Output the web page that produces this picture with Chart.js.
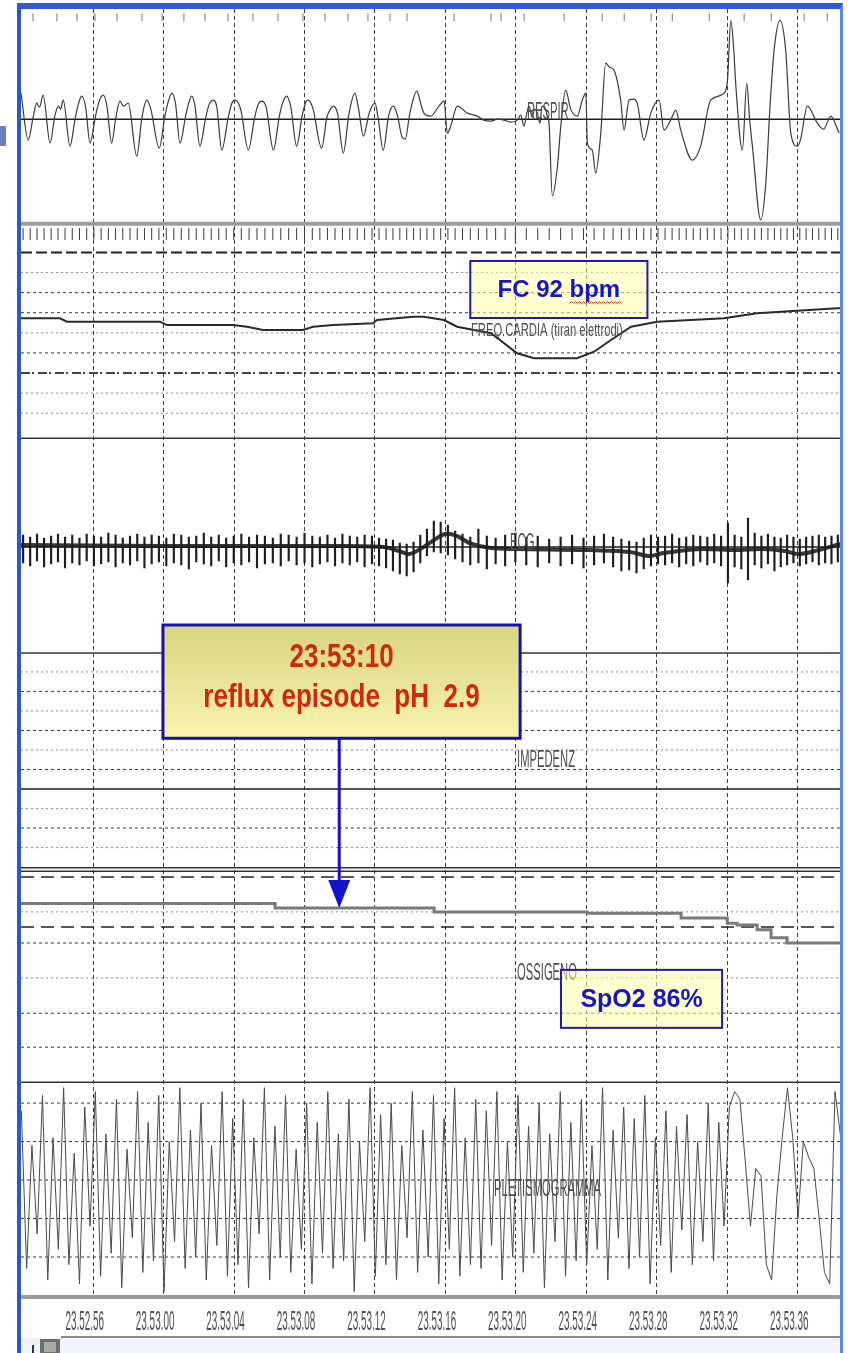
<!DOCTYPE html>
<html>
<head>
<meta charset="UTF-8">
<title>Poligrafia 23.52.52 - 23.53.38</title>
<script src="https://cdn.jsdelivr.net/npm/chart.js"></script>
<style>
  html, body { margin: 0; padding: 0; background: #fff; }
  .wrap { position: relative; width: 848px; height: 1353px; overflow: hidden; }
  .wrap canvas { position: absolute; left: 0; top: 0; }
  .frame {
    position: absolute; left: 17px; top: 3px; width: 819px; height: 1360px;
    border-left: 4px solid #2c57d4; border-top: 6px solid #2f5ad8; border-right: 3px solid #5b86ec;
    pointer-events: none;
  }
  .tab { position: absolute; left: 0; top: 126px; width: 6px; height: 20px; background: #6b80c4; }
</style>
</head>
<body>
<div class="wrap">
  <canvas id="poly"></canvas>
  <div class="frame"></div>
  <div class="tab"></div>
</div>
<script>
// time in seconds after 23:52:00
const timeTicks = [56, 60, 64, 68, 72, 76, 80, 84, 88, 92, 96];
const timeLabels = ['23.52.56', '23.53.00', '23.53.04', '23.53.08', '23.53.12', '23.53.16',
                    '23.53.20', '23.53.24', '23.53.28', '23.53.32', '23.53.36'];

// respiratory effort [t, amplitude]
const respTrace = [
  [51.93, 26], [52.34, -21], [52.62, 2], [52.82, 16], [52.98, 12], [53.19, 24], [53.58, -24], [53.85, 3],
  [54.05, 13], [54.18, 10], [54.33, 19], [54.71, -27], [55.0, 0], [55.2, 16], [55.38, 23], [55.6, 12],
  [55.85, -24], [56.15, 2], [56.35, 17], [56.6, 24], [56.8, 14], [57.08, -24], [57.3, 0], [57.55, 18],
  [57.75, 13], [58.02, 16], [58.5, -37], [58.8, 2], [59.07, 19], [59.3, 10], [59.78, -29], [60.1, 3],
  [60.3, 18], [60.49, 26], [60.7, 16], [60.96, -24], [61.3, 5], [61.62, 23], [61.8, 14], [62.09, -27],
  [62.4, 0], [62.6, 14], [62.85, 19], [63.05, 12], [63.33, -31], [63.7, 2], [63.9, 16], [64.08, 19],
  [64.4, 10], [64.84, -31], [65.2, 2], [65.4, 15], [65.6, 18], [65.85, 12], [66.26, -31], [66.6, 3],
  [66.8, 17], [67.02, 23], [67.25, 12], [67.58, -27], [67.9, 4], [68.1, 17], [68.24, 19], [68.5, 11],
  [69.0, -29], [69.3, 2], [69.5, 10], [69.66, 13], [69.9, 6], [70.23, -34], [70.55, 5], [70.89, 26],
  [71.1, 10], [71.37, -17], [71.7, 6], [72.03, 16], [72.2, 2], [72.5, -31], [72.8, 3], [73.07, 13],
  [73.3, 4], [73.55, -17], [73.75, -20], [74.0, 5], [74.4, 28], [74.65, 14], [74.81, 6], [75.19, 3],
  [75.66, 13], [75.95, 18], [76.14, -14], [76.33, -7], [76.7, 13], [77.27, 6], [77.84, 3], [78.2, -1],
  [78.6, -2], [79.0, 0], [79.36, -1], [79.7, -3], [80.11, -1], [80.3, 4], [80.49, -7], [80.65, 6],
  [80.78, 13], [80.95, 2], [81.1, 10], [81.25, 6], [81.4, -4], [81.5, 12], [81.63, 13], [81.8, 4],
  [81.91, -4], [82.1, -77], [82.39, -47], [82.58, -7], [82.86, 29], [83.14, 10], [83.52, 3], [83.8, 19],
  [84.0, 26], [84.09, -24], [84.37, -31], [84.56, -54], [84.85, -14], [85.13, 56], [85.35, 52], [85.6, 49],
  [85.98, 19], [86.17, -11], [86.45, 19], [86.7, 20], [86.92, 16], [87.3, -21], [87.69, 6], [88.16, 19],
  [88.44, -11], [88.82, -1], [89.11, 9], [89.39, -11], [90.05, -41], [90.52, -27], [91.09, 19], [91.85, 26],
  [92.05, 40], [92.23, 99], [92.4, 70], [92.51, 36], [92.89, -31], [93.14, 36], [93.3, 0], [93.46, -27],
  [93.93, -101], [94.22, -64], [94.45, 10], [94.69, 69], [95.03, 99], [95.35, 69], [95.64, -14], [96.01, -27],
  [96.2, -20], [96.58, 13], [97.15, -4], [97.5, -10], [97.91, 3], [98.38, -14]
];

// event marks along the top of the effort channel
const eventTimes = [52.61, 53.97, 55.11, 56.13, 57.38, 58.80, 59.94, 61.18, 62.38, 63.68, 65.10, 66.52,
  67.94, 69.19, 70.50, 71.63, 72.88, 73.85, 76.52, 78.62, 79.19, 80.50, 82.77, 84.93, 86.18, 87.71,
  88.91, 91.01, 92.99, 94.53, 96.40, 97.71];

// heart rate, bpm [t, bpm]
const hrTrace = [
  [51.93, 151.6], [54.14, 151.6], [54.54, 146.6], [59.82, 146.6], [60.22, 141.6], [63.97, 141.6],
  [64.76, 139.1], [65.67, 134.2], [67.94, 134.2], [68.51, 139.1], [69.65, 141.6], [71.92, 144.2],
  [72.14, 149.1], [74.19, 154.0], [74.81, 154.0], [75.95, 149.1], [76.69, 139.1], [78.62, 129.3],
  [80.10, 99.4], [81.06, 92], [83.50, 92], [84.47, 101.8], [85.43, 119.3], [86.57, 139.1],
  [88.05, 146.6], [91.85, 151.6], [93.72, 159.1], [98.27, 166.6], [98.49, 166.6]
];

// R-wave detections (s) with R peak / S trough of each ECG complex
const beatTimes = [
  52.05, 52.45, 52.84, 53.24, 53.64, 54.03, 54.43, 54.84, 55.25, 55.66,
  56.07, 56.48, 56.89, 57.30, 57.71, 58.12, 58.53, 58.94, 59.35, 59.76,
  60.18, 60.61, 61.03, 61.46, 61.88, 62.31, 62.73, 63.16, 63.58, 64.01,
  64.44, 64.88, 65.33, 65.78, 66.23, 66.68, 67.13, 67.58, 68.03, 68.47,
  68.90, 69.33, 69.76, 70.18, 70.60, 71.02, 71.44, 71.86, 72.26, 72.66,
  73.05, 73.44, 73.83, 74.22, 74.60, 74.98, 75.37, 75.76, 76.17, 76.58,
  77.00, 77.44, 77.90, 78.38, 78.88, 79.42, 80.00, 80.62, 81.27, 81.92,
  82.57, 83.22, 83.87, 84.47, 85.03, 85.55, 86.02, 86.46, 86.88, 87.29,
  87.70, 88.10, 88.50, 88.90, 89.30, 89.70, 90.10, 90.50, 90.90, 91.29,
  91.68, 92.07, 92.45, 92.83, 93.21, 93.59, 93.97, 94.34, 94.71, 95.07,
  95.43, 95.79, 96.15, 96.51, 96.87, 97.23, 97.59, 97.95, 98.31
];
const ecgR = [
  1.2, 1.0, 1.3, 0.9, 1.1, 1.3, 1.0, 1.2, 0.9, 1.3,
  1.1, 1.0, 1.4, 1.2, 0.9, 1.1, 1.3, 1.0, 1.2, 1.1,
  0.9, 1.3, 1.2, 1.0, 1.1, 1.4, 1.0, 1.2, 0.9, 1.1,
  1.3, 1.0, 1.2, 1.1, 0.9, 1.3, 1.2, 1.0, 1.4, 1.1,
  1.0, 1.2, 0.9, 1.3, 1.1, 1.0, 1.2, 1.1, 0.9, 0.8,
  0.7, 0.4, 0.3, 0.5, 1.2, 1.8, 2.6, 2.5, 2.2, 1.6,
  1.3, 1.0, 1.8, 1.1, 0.9, 1.2, 1.4, 1.0, 1.1, 0.8,
  1.0, 1.2, 0.9, 1.1, 1.3, 1.0, 0.8, 0.6, 0.5, 0.9,
  1.2, 1.0, 1.1, 1.3, 0.9, 1.0, 1.2, 1.1, 1.0, 1.3,
  1.1, 2.4, 1.2, 1.0, 2.9, 1.4, 1.1, 1.3, 1.0, 0.9,
  1.2, 1.0, 0.8, 1.0, 1.1, 1.2, 1.0, 1.1, 1.2
];
const ecgS = [
  -1.6, -1.9, -1.4, -2.0, -1.7, -1.5, -2.1, -1.6, -1.8, -1.4,
  -1.9, -1.7, -1.5, -2.0, -1.6, -1.8, -1.4, -2.1, -1.7, -1.5,
  -1.9, -1.6, -1.8, -2.2, -1.5, -1.7, -1.9, -1.4, -2.0, -1.6,
  -1.8, -1.5, -2.1, -1.7, -1.6, -1.9, -1.4, -1.8, -1.6, -2.0,
  -1.7, -1.5, -1.9, -1.6, -1.8, -1.5, -2.0, -1.7, -1.9, -2.1,
  -2.4, -2.7, -2.9, -2.5, -1.6, -0.9, -0.5, -0.6, -0.8, -1.2,
  -1.5, -1.8, -1.6, -2.2, -1.7, -1.9, -1.5, -1.8, -2.0, -1.6,
  -1.9, -1.7, -2.1, -1.8, -1.6, -2.0, -2.4, -2.3, -2.6, -2.2,
  -1.9, -1.7, -1.8, -1.6, -2.0, -1.7, -1.9, -1.5, -1.8, -1.6,
  -1.9, -3.6, -2.0, -2.2, -3.3, -1.8, -2.1, -1.7, -2.4, -2.0,
  -1.8, -1.6, -1.9, -1.7, -1.5, -1.8, -1.6, -1.7, -1.5
];
// ECG baseline wander [t, value]
const ecgBase = [
  [51.93, 0.2], [60, 0.1], [70, 0.1], [72.5, 0.0], [73.4, -0.4], [74.0, -0.7], [74.6, -0.2],
  [75.3, 0.6], [76.0, 1.3], [76.7, 1.1], [77.4, 0.4], [78.6, -0.1], [80.0, -0.2], [84.0, -0.3],
  [86.5, -0.5], [87.6, -0.9], [88.4, -0.6], [90.5, -0.2], [92.5, -0.3], [94.0, -0.2], [95.3, -0.4],
  [96.0, -0.7], [96.8, -0.5], [98.45, 0.3]
];

// oxygen saturation, % [t, SpO2]
const spo2Trace = [
  [51.93, 94.4], [66.36, 93.4], [75.39, 92.6], [84.08, 92.3], [89.41, 91.3], [92.03, 90.2],
  [92.59, 89.8], [93.73, 88.8], [94.52, 87.1], [95.43, 86.0], [98.49, 86.0]
];

// plethysmogram, sampled every plethStep seconds from plethStart
const plethStart = 51.95;
const plethStep = 0.3;
const plethValues = [
  1.8, -2.3, 0.9, -1.4, 2.2, -2.6, 1.1, -1.8, 2.4, -2.2, 0.7, -2.7, 1.9, -1.2, 2.3, -2.5, 1.2, -1.9, 2.1, -2.8,
  0.8, -1.5, 2.3, -2.4, 1.5, -2.1, 2.2, -2.9, 1.0, -1.6, 2.4, -2.3, 1.3, -2.0, 2.0, -2.6, 0.9, -1.7, 2.3, -2.5,
  1.6, -2.2, 2.1, -2.8, 1.1, -1.4, 2.4, -2.6, 1.4, -2.0, 2.2, -2.4, 0.8, -1.8, 2.0, -2.7, 1.5, -1.9, 2.3, -2.3,
  1.2, -2.1, 2.1, -2.9, 1.0, -1.6, 2.4, -2.5, 1.7, -2.2, 2.0, -2.6, 0.9, -1.5, 2.3, -2.4, 1.3, -2.0, 2.2, -2.7,
  1.6, -1.8, 2.4, -2.5, 1.1, -2.2, 2.1, -2.3, 1.8, -1.7, 2.3, -2.6, 1.0, -2.0, 2.2, -2.4, 1.4, -1.9, 2.0, -2.8,
  1.2, -1.6, 2.3, -2.5, 1.5, -2.1, 2.1, -2.2, 0.9, -1.8, 2.4, -2.6, 1.3, -1.5, 1.9, -2.3, 1.6, -2.0, 2.2, -2.7,
  1.1, -1.7, 1.8, -2.4, 1.4, -1.3, 1.7, -2.2, 1.0, -1.6, 2.0, -2.1, 1.5, -1.2,
  1.9, 2.3, 2.1, 0.5, -1.2, 0.3, 0.1, -2.2, -2.6, -0.4, 1.1, 2.4, 1.1, -1.0, 1.0, 0.6, 0.3, -1.0, -2.4, -2.7, 2.3, 1.2
];

// reflux event
const refluxTime = 70;
const refluxPh = 2.9;

const pts = arr => arr.map(([x, y]) => ({x, y}));
const clock = s => '23:' + (52 + Math.floor(s / 60)) + ':' + String(Math.round(s % 60)).padStart(2, '0');
const minHr = Math.min(...hrTrace.map(p => p[1]));
const lastSpo2 = spo2Trace[spo2Trace.length - 1][1];
const spo2At = t => spo2Trace.filter(p => p[0] <= t).pop()[1];

// six stacked channels, top to bottom
const channels = [
  {id: 'yResp', min: -104.7, max: 110.3, weight: 6, edge: 'grayBand', lines: [[0, 'solid']]},
  {id: 'yHr', min: -27.5, max: 292.9, weight: 5, edge: 'rule',
   lines: [[250, 'heavyDash'], [220, 'dotLight'], [190, 'dotDark'], [160, 'dotDark'], [130, 'dotLight'],
           [100, 'dotDark'], [70, 'dashDot'], [40, 'dotLight'], [10, 'dotLight']]},
  {id: 'yEcg', min: -10.6, max: 10.87, weight: 4, edge: 'rule', lines: [[0, 'solid']]},
  {id: 'yImp', min: -4.03, max: 6.97, weight: 3, edge: 'double',
   lines: [[6, 'dotLight'], [5, 'dotDark'], [4, 'dotLight'], [3, 'dotDark'], [2, 'dotLight'], [1, 'dotDark'],
           [0, 'solid'], [-1, 'dotLight'], [-2, 'dotDark'], [-3, 'dotLight']]},
  {id: 'ySpo2', min: 56.44, max: 101.98, weight: 2, edge: 'rule',
   lines: [[100, 'longDash'], [92.6, 'dotLight'], [89.4, 'longDash'], [86, 'dotDark'], [78.6, 'dotLight'],
           [71.1, 'dotDark'], [63.9, 'dotDark']]},
  {id: 'yPleth', min: -3.04, max: 2.54, weight: 1, edge: 'grayBand',
   lines: [[2, 'dotDark'], [1, 'dotDark'], [0, 'dotDark'], [-1, 'dotDark'], [-2, 'dotDark']]}
];

const lineStyles = {
  solid: {color: '#1e1e1e', width: 1.5, dash: []},
  rule: {color: '#333', width: 1.5, dash: []},
  grayBand: {color: '#9c9c9c', width: 4, dash: []},
  dotLight: {color: '#8c8c8c', width: 1, dash: [2, 3]},
  dotDark: {color: '#3a3a3a', width: 1, dash: [3, 3]},
  heavyDash: {color: '#222', width: 2, dash: [11, 4]},
  longDash: {color: '#222', width: 1.5, dash: [13, 7]},
  dashDot: {color: '#444', width: 2, dash: [9, 2, 2, 4]}
};

// channel captions, placed on the channel midline
const captions = [
  {text: 'RESPIR', scale: 'yResp', t: 80.66, dy: -4},
  {text: 'FREQ.CARDIA (tiran elettrodi)', scale: 'yHr', t: 77.48, dy: 0, sy: 1.3},
  {text: 'ECG', scale: 'yEcg', t: 79.7, dy: -2},
  {text: 'IMPEDENZ', scale: 'yImp', t: 80.1, dy: 0},
  {text: 'OSSIGENO', scale: 'ySpo2', t: 80.1, dy: -2},
  {text: 'PLETISMOGRAMMA', scale: 'yPleth', t: 78.79, dy: 0}
];

function hline(ctx, area, y, kind) {
  const st = lineStyles[kind];
  ctx.save();
  ctx.strokeStyle = st.color;
  ctx.lineWidth = st.width;
  ctx.setLineDash(st.dash);
  ctx.beginPath();
  ctx.moveTo(area.left, y);
  ctx.lineTo(area.right, y);
  ctx.stroke();
  ctx.restore();
}

function stretchText(ctx, text, x, y, o) {
  ctx.save();
  ctx.translate(x, y);
  ctx.scale(o.sx || 1, o.sy || 1);
  ctx.font = o.font;
  ctx.fillStyle = o.color;
  ctx.textAlign = o.align || 'left';
  ctx.textBaseline = 'middle';
  ctx.fillText(text, 0, 0);
  ctx.restore();
}

function noteBox(ctx, x0, y0, x1, y1, fill, stroke, lw) {
  ctx.save();
  ctx.fillStyle = fill;
  ctx.fillRect(x0, y0, x1 - x0, y1 - y0);
  ctx.strokeStyle = stroke;
  ctx.lineWidth = lw;
  ctx.strokeRect(x0, y0, x1 - x0, y1 - y0);
  ctx.restore();
}

const stripGrid = {
  id: 'stripGrid',
  beforeDatasetsDraw(chart) {
    const {ctx, chartArea: a, scales} = chart;
    ctx.save();
    ctx.strokeStyle = '#3c3c3c';
    ctx.lineWidth = 1;
    ctx.setLineDash([4, 3]);
    timeTicks.forEach(t => {
      const px = Math.round(scales.x.getPixelForValue(t)) + 0.5;
      ctx.beginPath();
      ctx.moveTo(px, a.top);
      ctx.lineTo(px, a.bottom);
      ctx.stroke();
    });
    ctx.restore();
    channels.forEach(ch => {
      const sc = scales[ch.id];
      ch.lines.forEach(([v, kind]) => hline(ctx, a, sc.getPixelForValue(v), kind));
      if (ch.edge === 'double') {
        hline(ctx, a, sc.bottom, 'rule');
        hline(ctx, a, sc.bottom + 3.5, 'rule');
      } else {
        hline(ctx, a, sc.bottom, ch.edge);
      }
    });
  }
};

const notes = {
  id: 'notes',
  afterDatasetsDraw(chart) {
    const {ctx, scales: s} = chart;
    const x = s.x;
    captions.forEach(c => {
      const sc = s[c.scale];
      stretchText(ctx, c.text, x.getPixelForValue(c.t), (sc.top + sc.bottom) / 2 + c.dy,
        {font: '14px "Liberation Sans", Arial, sans-serif', sx: 0.8, sy: c.sy || 1.7, color: '#4e4e4e'});
    });

    // heart rate note
    const fx0 = x.getPixelForValue(77.44), fx1 = x.getPixelForValue(87.5);
    const fy0 = s.yHr.getPixelForValue(237.2), fy1 = s.yHr.getPixelForValue(152.1);
    noteBox(ctx, fx0, fy0, fx1, fy1, 'rgba(255,255,170,0.55)', '#1c1ca8', 2);
    const fcText = 'FC ' + Math.round(minHr) + ' bpm';
    ctx.save();
    ctx.font = 'bold 24px "Liberation Sans", Arial, sans-serif';
    const fw = ctx.measureText(fcText).width;
    const fw1 = ctx.measureText('FC ' + Math.round(minHr) + ' ').width;
    const fcx = (fx0 + fx1) / 2, fcy = (fy0 + fy1) / 2 + 1;
    ctx.fillStyle = '#1616c4';
    ctx.textAlign = 'left';
    ctx.textBaseline = 'middle';
    ctx.fillText(fcText, fcx - fw / 2, fcy);
    // spell-check squiggle under "bpm"
    ctx.strokeStyle = '#d43a2a';
    ctx.lineWidth = 1;
    ctx.beginPath();
    let sxp = fcx - fw / 2 + fw1, up = true;
    ctx.moveTo(sxp, fcy + 13);
    while (sxp < fcx + fw / 2) {
      sxp += 2;
      ctx.lineTo(sxp, fcy + (up ? 11 : 13));
      up = !up;
    }
    ctx.stroke();
    ctx.restore();

    // reflux note and arrow
    const rx0 = x.getPixelForValue(59.99), rx1 = x.getPixelForValue(80.27);
    const ry0 = s.yEcg.getPixelForValue(-7.8), ry1 = s.yImp.getPixelForValue(2.6);
    const grad = ctx.createLinearGradient(0, ry0, 0, ry1);
    grad.addColorStop(0, '#d9d47e');
    grad.addColorStop(1, '#f8f4ae');
    noteBox(ctx, rx0, ry0, rx1, ry1, grad, '#1010b8', 3);
    const rcx = (rx0 + rx1) / 2;
    stretchText(ctx, clock(refluxTime), rcx, ry0 + 33,
      {font: 'bold 31px "Liberation Sans", Arial, sans-serif', sx: 0.84, sy: 1.05, color: '#cc2a0c', align: 'center'});
    stretchText(ctx, 'reflux episode  pH  ' + refluxPh.toFixed(1), rcx, ry0 + 73,
      {font: 'bold 31px "Liberation Sans", Arial, sans-serif', sx: 0.84, sy: 1.05, color: '#cc2a0c', align: 'center'});

    const ax = x.getPixelForValue(refluxTime);
    const tipY = s.ySpo2.getPixelForValue(spo2At(refluxTime));
    ctx.save();
    ctx.strokeStyle = '#1414cc';
    ctx.fillStyle = '#1414cc';
    ctx.lineWidth = 3;
    ctx.beginPath();
    ctx.moveTo(ax, ry1);
    ctx.lineTo(ax, tipY - 26);
    ctx.stroke();
    ctx.beginPath();
    ctx.moveTo(ax - 11, tipY - 28);
    ctx.lineTo(ax + 11, tipY - 28);
    ctx.lineTo(ax, tipY);
    ctx.closePath();
    ctx.fill();
    ctx.restore();

    // saturation note
    const sx0 = x.getPixelForValue(82.59), sx1 = x.getPixelForValue(91.74);
    const sy0 = s.ySpo2.getPixelForValue(80.3), sy1 = s.ySpo2.getPixelForValue(68.0);
    noteBox(ctx, sx0, sy0, sx1, sy1, 'rgba(255,255,170,0.55)', '#1c1ca8', 2);
    stretchText(ctx, 'SpO2 ' + lastSpo2 + '%', (sx0 + sx1) / 2, (sy0 + sy1) / 2 + 1,
      {font: 'bold 25px "Liberation Sans", Arial, sans-serif', color: '#1616c4', align: 'center'});
  },
  afterDraw(chart) {
    const {ctx, chartArea: a, scales: s} = chart;
    timeTicks.forEach((t, i) => {
      stretchText(ctx, timeLabels[i], s.x.getPixelForValue(t) - 8, a.bottom + 26,
        {font: '15px "Liberation Sans", Arial, sans-serif', sx: 0.66, sy: 1.8, color: '#505050', align: 'center'});
    });
    // window footer strip
    ctx.save();
    ctx.fillStyle = '#f2f2fb';
    ctx.fillRect(a.left, a.bottom + 41, a.right - a.left, 20);
    ctx.strokeStyle = '#8a8a8a';
    ctx.lineWidth = 2;
    ctx.beginPath();
    ctx.moveTo(a.left + 40, a.bottom + 40);
    ctx.lineTo(a.right, a.bottom + 40);
    ctx.stroke();
    ctx.fillStyle = '#6e6e6e';
    ctx.fillRect(a.left + 19, a.bottom + 42, 20, 14);
    ctx.fillStyle = '#a8a8a8';
    ctx.fillRect(a.left + 23, a.bottom + 45, 12, 10);
    ctx.fillStyle = '#333';
    ctx.fillRect(a.left + 11, a.bottom + 48, 2, 8);
    ctx.restore();
  }
};

const scales = {
  x: {
    type: 'linear', min: 51.93, max: 98.49, offset: false,
    grid: {display: false, drawTicks: false, offset: false}, ticks: {display: false}, border: {display: false}
  }
};
channels.forEach(ch => {
  scales[ch.id] = {
    type: 'linear', position: 'left', stack: 'strip', stackWeight: 1, weight: ch.weight,
    min: ch.min, max: ch.max,
    grid: {display: false, drawTicks: false}, ticks: {display: false}, border: {display: false}
  };
});

const traceLine = (id, data, extra) => Object.assign({
  type: 'line', yAxisID: id, data, pointRadius: 0, borderColor: '#333', borderWidth: 1.2, tension: 0
}, extra);

new Chart(document.getElementById('poly'), {
  type: 'line',
  data: {
    datasets: [
      traceLine('yResp', pts(respTrace), {borderColor: '#3a3a3a', tension: 0.2, cubicInterpolationMode: 'monotone'}),
      {type: 'scatter', yAxisID: 'yResp', data: eventTimes.map(t => ({x: t, y: 102})),
       pointStyle: 'line', rotation: 90, pointRadius: 4, borderColor: '#777', borderWidth: 1},
      traceLine('yHr', pts(hrTrace), {borderColor: '#2a2a2a', borderWidth: 2}),
      {type: 'scatter', yAxisID: 'yHr', data: beatTimes.map(t => ({x: t, y: 277.5})),
       pointStyle: 'line', rotation: 90, pointRadius: 6, borderColor: '#3a3a3a', borderWidth: 1},
      {type: 'bar', yAxisID: 'yEcg', data: beatTimes.map((t, i) => ({x: t, y: [ecgS[i], ecgR[i]]})),
       backgroundColor: '#1e1e1e', borderWidth: 0, barThickness: 1.5},
      traceLine('yEcg', pts(ecgBase), {borderColor: 'rgba(20,20,20,0.85)', borderWidth: 4, tension: 0.3}),
      traceLine('ySpo2', pts(spo2Trace), {borderColor: '#7a7a7a', borderWidth: 3, stepped: 'before'}),
      traceLine('yPleth', plethValues.map((v, i) => ({x: plethStart + i * plethStep, y: v})),
        {borderColor: '#4a4a4a', borderWidth: 1})
    ]
  },
  options: {
    responsive: true,
    maintainAspectRatio: false,
    animation: false,
    events: [],
    layout: {padding: {left: 21, right: 7, top: 9, bottom: 56}},
    scales,
    plugins: {legend: {display: false}, tooltip: {enabled: false}}
  },
  plugins: [stripGrid, notes]
});
</script>
</body>
</html>
